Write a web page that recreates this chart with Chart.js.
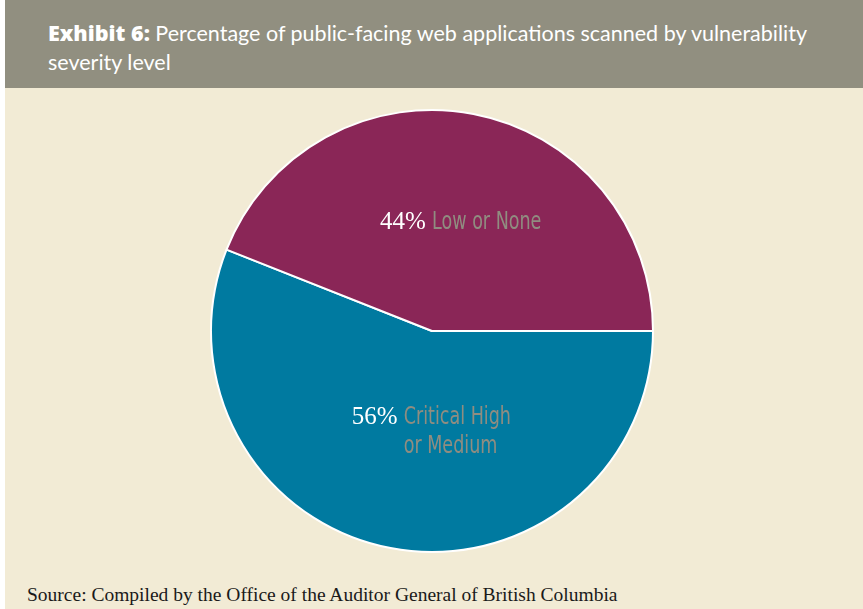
<!DOCTYPE html>
<html>
<head>
<meta charset="utf-8">
<script src="https://cdn.jsdelivr.net/npm/chart.js@4.4.1/dist/chart.umd.min.js"></script>
<style>
  html, body { margin: 0; padding: 0; background: #ffffff; }
  body { width: 863px; height: 609px; position: relative; overflow: hidden; }
  #panel { position: absolute; left: 5px; top: 0; right: 0; bottom: 0; background: #f2ebd5; }
  #header {
    position: absolute; left: 0; top: 0; right: 0; height: 88px;
    background: #918f80; color: #ffffff;
    font-family: "Lato", "Open Sans", sans-serif; font-size: 21.5px; line-height: 29px;
    padding: 18px 0 0 43px; box-sizing: border-box;
  }
  #header b { font-family: "Open Sans", sans-serif; font-weight: 800; }
  #source {
    position: absolute; left: 22px; top: 584px;
    font-family: "Liberation Serif", serif; font-size: 19.5px; color: #1a1a1a;
  }
  #pieWrap { position: absolute; left: 202px; top: 106px; width: 450px; height: 450px; }
</style>
</head>
<body>
<div id="panel">
  <div id="header"><b>Exhibit 6:</b> Percentage of public-facing web applications scanned by vulnerability<br>severity level</div>
  <div id="pieWrap"><canvas id="pie" width="450" height="450"></canvas></div>
  <div id="source">Source: Compiled by the Office of the Auditor General of British Columbia</div>
</div>
<script>
// datos del gráfico (orden horario desde las 3 en punto)
const categories = ["Critical High\nor Medium", "Low or None"];
const values = [56, 44];
const colors = ["#007aa0", "#8a2657"];

// desplazamientos de las etiquetas respecto al centro del arco
const labelShift = [[20, -8], [8, 0]];

const PCT_FONT = "25px 'Liberation Serif', serif";
const CAT_FONT = "25px 'DejaVu Sans Condensed', sans-serif";
const CAT_SQUEEZE = 0.78; // la fuente original es más estrecha

const sliceLabels = {
  id: "sliceLabels",
  afterDatasetsDraw(chart) {
    const ctx = chart.ctx;
    const arcs = chart.getDatasetMeta(0).data;
    arcs.forEach((arc, i) => {
      const p = arc.tooltipPosition();
      const lines = categories[i].split("\n");
      const pct = values[i] + "% ";
      ctx.save();
      ctx.textBaseline = "middle";
      ctx.font = PCT_FONT;
      const pctW = ctx.measureText(pct).width;
      ctx.font = CAT_FONT;
      const w1 = ctx.measureText(lines[0]).width * CAT_SQUEEZE;
      const lh = 29;
      const x0 = p.x + labelShift[i][0] - (pctW + w1) / 2;
      const y0 = p.y + labelShift[i][1] - (lines.length - 1) * lh / 2;
      ctx.fillStyle = "#ffffff";
      ctx.font = PCT_FONT;
      ctx.fillText(pct, x0, y0);
      ctx.fillStyle = "#908d80";
      ctx.font = CAT_FONT;
      lines.forEach((ln, k) => {
        ctx.save();
        ctx.translate(x0 + pctW, y0 + k * lh);
        ctx.scale(CAT_SQUEEZE, 1);
        ctx.fillText(ln, 0, 0);
        ctx.restore();
      });
      ctx.restore();
    });
  }
};

new Chart(document.getElementById("pie"), {
  type: "pie",
  data: {
    labels: categories,
    datasets: [{
      data: values,
      backgroundColor: colors,
      borderColor: "#ffffff",
      borderWidth: 2
    }]
  },
  options: {
    responsive: false,
    animation: false,
    rotation: 90,
    layout: { padding: 3 },
    plugins: { legend: { display: false }, tooltip: { enabled: false } }
  },
  plugins: [sliceLabels]
});
</script>
</body>
</html>
